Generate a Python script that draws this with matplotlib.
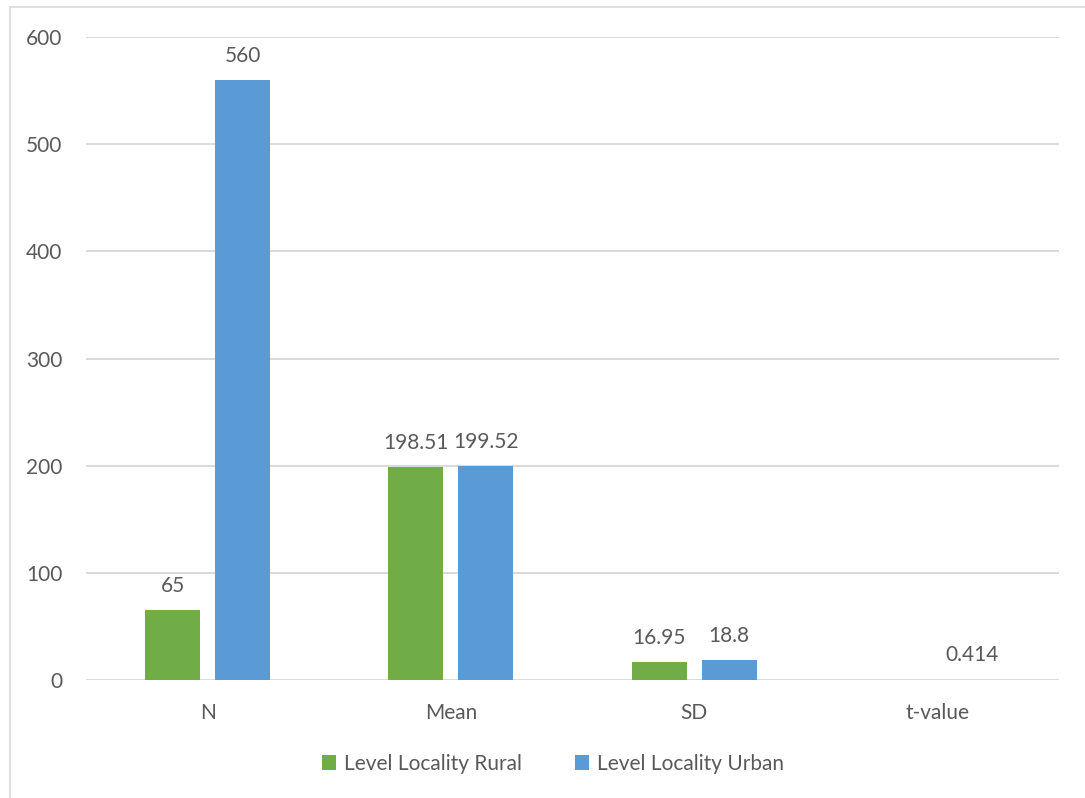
import numpy as np
import matplotlib
matplotlib.use("Agg")
import matplotlib.pyplot as plt
from matplotlib.patches import Rectangle, Patch

categories = ["N", "Mean", "SD", "t-value"]
rural = [65, 198.51, 16.95, np.nan]
urban = [560, 199.52, 18.8, 0.414]
rural_labels = ["65", "198.51", "16.95", None]
urban_labels = ["560", "199.52", "18.8", "0.414"]
series_names = ["Level Locality Rural", "Level Locality Urban"]
yticks = [0, 100, 200, 300, 400, 500, 600]

GREEN = "#70AD47"
BLUE = "#5B9BD5"
TEXT = "#595959"
GRID = "#D9D9D9"

plt.rcParams["font.family"] = ["Lato", "DejaVu Sans"]

W, H = 1085, 798
fig = plt.figure(figsize=(W / 100, H / 100), dpi=100)

# chart border (left and top edges visible)
fig.patches.append(Rectangle((10 / W, -0.05), 1.2, 1 - 7 / H + 0.05,
                             transform=fig.transFigure, fill=False,
                             edgecolor=GRID, linewidth=1.2))

ax = fig.add_axes([86 / W, 118 / H, (1059 - 86) / W, (680 - 37) / H])

x = np.arange(len(categories))
bw = 0.226
off = 0.144
ax.bar(x - off, rural, width=bw, color=GREEN, zorder=3)
ax.bar(x + off, urban, width=bw, color=BLUE, zorder=3)

fs = 15
for xi, v, lab in zip(x - off, rural, rural_labels):
    if lab is not None:
        ax.annotate(lab, (xi, v), xytext=(0, 17.5), textcoords="offset points",
                    ha="center", va="center", color=TEXT, fontsize=fs)
for xi, v, lab in zip(x + off, urban, urban_labels):
    if lab is not None:
        ax.annotate(lab, (xi, v), xytext=(0, 17.5), textcoords="offset points",
                    ha="center", va="center", color=TEXT, fontsize=fs)

ax.set_xlim(-0.5, len(categories) - 0.5)
ax.set_ylim(0, 600)
ax.set_yticks(yticks)
ax.set_yticklabels([str(t) for t in yticks])
ax.set_xticks(x)
ax.set_xticklabels(categories)
ax.tick_params(axis="both", length=0, labelcolor=TEXT, labelsize=fs)
ax.tick_params(axis="y", pad=17)
ax.tick_params(axis="x", pad=16.5)
ax.grid(axis="y", color=GRID, linewidth=1.4, zorder=0)
for s in ax.spines.values():
    s.set_visible(False)

handles = [Patch(facecolor=GREEN, edgecolor="none"), Patch(facecolor=BLUE, edgecolor="none")]
fig.legend(handles, series_names, loc="center", bbox_to_anchor=(553 / W, 1 - 764 / H),
           ncol=2, frameon=False, fontsize=fs, labelcolor=TEXT,
           handlelength=0.7, handleheight=0.7, handletextpad=0.4,
           columnspacing=2.5)

fig.savefig("out.png", dpi=100, facecolor="white")
